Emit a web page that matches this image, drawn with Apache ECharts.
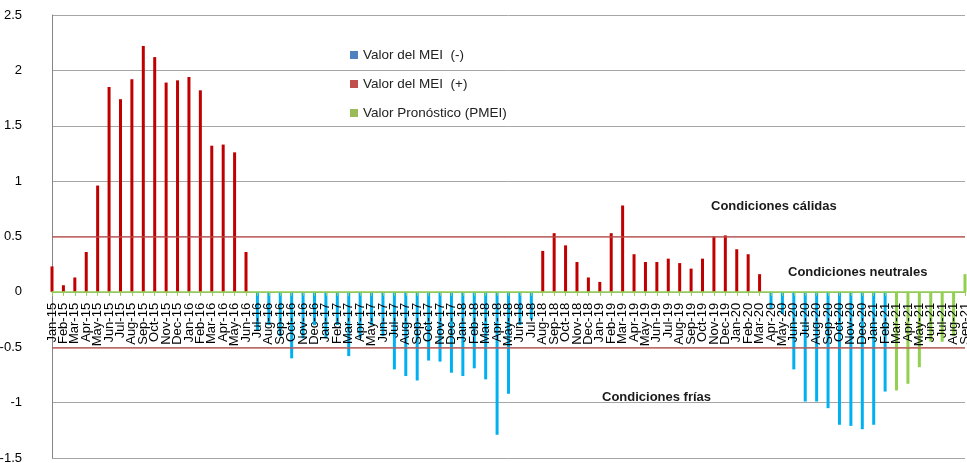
<!DOCTYPE html>
<html><head><meta charset="utf-8">
<script src="https://cdn.jsdelivr.net/npm/echarts@6/dist/echarts.min.js"></script>
<style>html,body{margin:0;padding:0;background:#fff}#c{width:967px;height:463px}</style>
</head><body><div id="c"></div>
<script>
const categories = [
 'Jan-15','Feb-15','Mar-15','Apr-15','May-15','Jun-15','Jul-15','Aug-15','Sep-15','Oct-15','Nov-15','Dec-15',
 'Jan-16','Feb-16','Mar-16','Apr-16','May-16','Jun-16','Jul-16','Aug-16','Sep-16','Oct-16','Nov-16','Dec-16',
 'Jan-17','Feb-17','Mar-17','Apr-17','May-17','Jun-17','Jul-17','Aug-17','Sep-17','Oct-17','Nov-17','Dec-17',
 'Jan-18','Feb-18','Mar-18','Apr-18','May-18','Jun-18','Jul-18','Aug-18','Sep-18','Oct-18','Nov-18','Dec-18',
 'Jan-19','Feb-19','Mar-19','Apr-19','May-19','Jun-19','Jul-19','Aug-19','Sep-19','Oct-19','Nov-19','Dec-19',
 'Jan-20','Feb-20','Mar-20','Apr-20','May-20','Jun-20','Jul-20','Aug-20','Sep-20','Oct-20','Nov-20','Dec-20',
 'Jan-21','Feb-21','Mar-21','Apr-21','May-21','Jun-21','Jul-21','Aug-21','Sep-21'
];
const N = null;
// Valor del MEI (-)
const meiNeg = [
 N,N,N,N,N,N,N,N,N,N,N,N,
 N,N,N,N,N,N,-0.35,-0.30,-0.40,-0.60,-0.42,-0.30,
 -0.42,-0.30,-0.58,-0.42,-0.30,-0.40,-0.70,-0.76,-0.80,-0.62,-0.63,-0.73,
 -0.76,-0.69,-0.79,-1.29,-0.92,-0.30,-0.25,N,N,N,N,N,
 N,N,N,N,N,N,N,N,N,N,N,N,
 N,N,N,-0.15,-0.20,-0.70,-0.99,-0.99,-1.05,-1.20,-1.21,-1.24,
 -1.20,-0.90,N,N,N,N,N,N,N
];
// Valor del MEI (+)
const meiPos = [
 0.23,0.06,0.13,0.36,0.96,1.85,1.74,1.92,2.22,2.12,1.89,1.91,
 1.94,1.82,1.32,1.33,1.26,0.36,N,N,N,N,N,N,
 N,N,N,N,N,N,N,N,N,N,N,N,
 N,N,N,N,N,N,N,0.37,0.53,0.42,0.27,0.13,
 0.09,0.53,0.78,0.34,0.27,0.27,0.30,0.26,0.21,0.30,0.50,0.51,
 0.385,0.34,0.16,N,N,N,N,N,N,N,N,N,
 N,N,N,N,N,N,N,N,N
];
// Valor Pronóstico (PMEI)
const pmei = [
 N,N,N,N,N,N,N,N,N,N,N,N,
 N,N,N,N,N,N,N,N,N,N,N,N,
 N,N,N,N,N,N,N,N,N,N,N,N,
 N,N,N,N,N,N,N,N,N,N,N,N,
 N,N,N,N,N,N,N,N,N,N,N,N,
 N,N,N,N,N,N,N,N,N,N,N,N,
 N,N,-0.89,-0.83,-0.68,-0.45,-0.45,-0.40,0.16
];
const seriesNames = ['Valor del MEI  (-)','Valor del MEI  (+)','Valor Pronóstico (PMEI)'];
const thresholds = [0.5, -0.5];
const yMin = -1.5, yMax = 2.5, yStep = 0.5;

const chart = echarts.init(document.getElementById('c'), null, {renderer:'canvas'});
const font = 'Liberation Sans, Arial, sans-serif';
const option = {
  animation:false,
  backgroundColor:'#fff',
  grid:{left:52,right:2,top:15,bottom:5,containLabel:false,outerBoundsMode:'none'},
  legend:{
    orient:'vertical', left:345, top:43, itemWidth:8, itemHeight:8, itemGap:15,
    icon:'rect',
    textStyle:{fontFamily:font,fontSize:13.5,color:'#222'},
    data:[
      {name:seriesNames[0], itemStyle:{color:'#4F81BD'}},
      {name:seriesNames[1], itemStyle:{color:'#C0504D'}},
      {name:seriesNames[2], itemStyle:{color:'#9BBB59'}}
    ]
  },
  xAxis:[{
    type:'category', data:categories, boundaryGap:false, z:5,
    axisLine:{onZero:true, lineStyle:{color:'#92D050',width:1.5}},
    axisTick:{show:true, interval:0, length:4, lineStyle:{color:'#92D050'}},
    axisLabel:{show:false},
    splitLine:{show:false}
  },{
    type:'category', data:categories, boundaryGap:false, z:6, position:'bottom', offset:0,
    axisLine:{show:false, onZero:false},
    axisTick:{show:false},
    axisLabel:{interval:0, rotate:90, margin:11, fontFamily:font, fontSize:13, color:'#000'},
    splitLine:{show:false}
  }],
  yAxis:{
    type:'value', min:yMin, max:yMax, interval:yStep,
    axisLine:{show:true, lineStyle:{color:'#868686'}},
    axisTick:{show:false},
    axisLabel:{margin:30, fontFamily:font, fontSize:13, color:'#000', formatter:v=>String(v)},
    splitLine:{lineStyle:{color:'#A6A6A6',width:1}}
  },
  series:[
    {name:seriesNames[0], type:'bar', data:meiNeg, barWidth:3, barGap:'-100%', itemStyle:{color:'#00B0F0'},
     markLine:{silent:true, symbol:'none', label:{show:false},
       lineStyle:{color:'#C0504D',width:1.5,type:'solid',opacity:0.85},
       data:thresholds.map(t=>({yAxis:t}))}},
    {name:seriesNames[1], type:'bar', data:meiPos, barWidth:3, barGap:'-100%', itemStyle:{color:'#C00000'}},
    {name:seriesNames[2], type:'bar', data:pmei, barWidth:3, barGap:'-100%', itemStyle:{color:'#92D050'}}
  ],
  graphic:[
    {type:'text', left:711, top:200, style:{text:'Condiciones cálidas', font:'bold 13px '+font, fill:'#1a1a1a'}},
    {type:'text', left:788, top:266, style:{text:'Condiciones neutrales', font:'bold 13px '+font, fill:'#1a1a1a'}},
    {type:'text', left:602, top:391, style:{text:'Condiciones frías', font:'bold 13px '+font, fill:'#1a1a1a'}}
  ]
};
chart.setOption(option);
// move the label axis up to the zero line using the library's own scale
const zeroY = chart.convertToPixel({yAxisIndex:0}, 0);
const bottomY = chart.convertToPixel({yAxisIndex:0}, yMin);
chart.setOption({xAxis:[{},{offset:-(bottomY - zeroY)}]});
</script></body></html>
